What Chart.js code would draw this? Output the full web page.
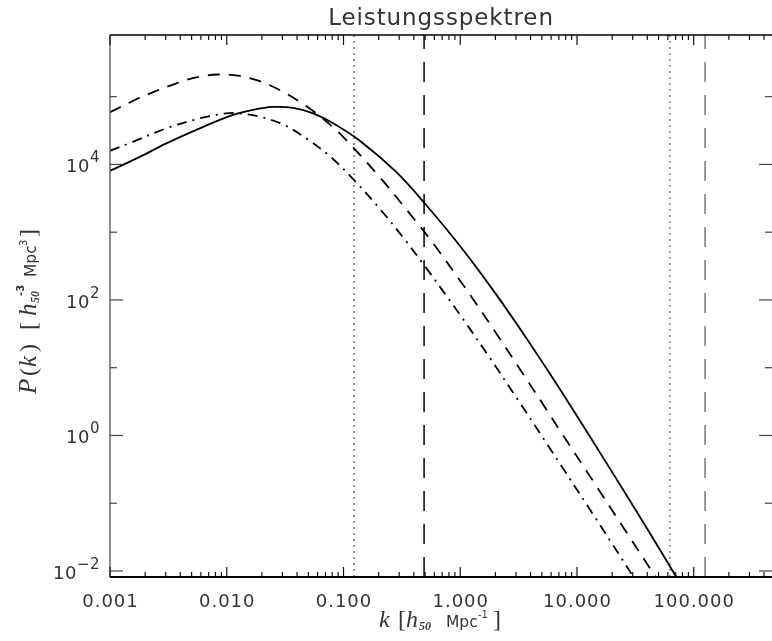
<!DOCTYPE html>
<html lang="de">
<head>
<meta charset="UTF-8">
<title>Leistungsspektren</title>
<script src="https://cdn.jsdelivr.net/npm/chart.js"></script>
<style>
  body { margin: 0; background: #fff; }
  .wrap { width: 772px; height: 641px; position: relative; }
</style>
</head>
<body>
<div class="wrap"><canvas id="spectra"></canvas></div>
<script>
// k in h50/Mpc, P(k) in h50^-3 Mpc^3
const kSolid = [0.001, 0.0018, 0.00304, 0.00587, 0.01132, 0.0168, 0.0249, 0.037, 0.055, 0.0815, 0.138, 0.284, 0.498, 1.059, 2.05, 3.94, 7.62, 19.1, 36.9, 71.3];
const pSolid = [8035, 12940, 20460, 34120, 53700, 64000, 70500, 68500, 56750, 40460, 22390, 7690, 2649, 547, 117.8, 23.0, 4.05, 0.327, 0.0524, 0.00802];

const kDashed = [0.001, 0.00163, 0.00237, 0.00347, 0.00532, 0.00841, 0.0125, 0.0189, 0.0284, 0.0417, 0.0587, 0.0815, 0.1026, 0.2046, 0.37, 0.586, 0.993, 1.25, 2.05, 3.35, 5.31, 7.13, 13.8, 26.6, 48.1];
const pDashed = [58750, 89300, 117500, 151000, 190500, 212300, 203700, 170600, 125600, 84900, 56400, 35240, 24100, 6490, 1871, 686, 194, 110.7, 31.4, 8.75, 2.61, 1.19, 0.210, 0.0370, 0.00776];

const kDashDot = [0.001, 0.00157, 0.00304, 0.00587, 0.00993, 0.0129, 0.0192, 0.0303, 0.0482, 0.0789, 0.125, 0.2046, 0.324, 0.514, 0.787, 1.026, 1.795, 3.13, 5.48, 7.13, 13.8, 30.8];
const pDashDot = [15890, 21580, 34120, 47860, 56750, 56750, 50580, 39080, 24100, 12590, 5740, 2218, 836, 292, 106.4, 56.1, 13.9, 3.33, 0.769, 0.385, 0.0676, 0.00794];

const kDotted = [0.123, 62.5];
const kLongDash = [0.49, 125];

const xTicks = [0.001, 0.01, 0.1, 1, 10, 100];
const xTickLabels = ['0.001', '0.010', '0.100', '1.000', '10.000', '100.000'];
const yTicks = [1e-2, 1, 1e2, 1e4];
const yExponents = ['\u22122', '0', '2', '4'];

const xMin = 0.001, xMax = 468;
const yMin = 0.00815, yMax = 8.13e5;

function pts(ks, ps) { return ks.map((k, i) => ({ x: k, y: ps[i] })); }
function vline(k) { return [{ x: k, y: yMin }, { x: k, y: yMax }]; }

function curve(data, dash) {
  return { data: data, borderColor: '#000', borderWidth: 1.8, borderDash: dash,
           pointRadius: 0, showLine: true, fill: false, tension: 0.35 };
}
function marker(k, color, width, dash) {
  return { data: vline(k), borderColor: color, borderWidth: width, borderDash: dash,
           pointRadius: 0, showLine: true, fill: false };
}

// parts carry their own offset along the text line
function drawPlaced(ctx, parts, x, y) {
  parts.forEach(p => {
    ctx.font = p.f;
    ctx.fillText(p.t, x + p.dx, y + (p.dy || 0));
  });
}
function richWidth(ctx, parts) {
  let w = 0;
  parts.forEach(p => { ctx.font = p.f; w += ctx.measureText(p.t).width; });
  return w;
}
function drawRich(ctx, parts, x, y) {
  parts.forEach(p => {
    ctx.font = p.f;
    ctx.fillText(p.t, x, y + (p.dy || 0));
    x += ctx.measureText(p.t).width;
  });
}

const sans = '"DejaVu Sans"';
const serif = '"Liberation Serif"';

const axesBox = {
  id: 'axesBox',
  afterDraw(chart) {
    const { ctx, chartArea: a, scales: { x, y } } = chart;
    ctx.save();
    function seg(x1, y1, x2, y2) { ctx.beginPath(); ctx.moveTo(x1, y1); ctx.lineTo(x2, y2); ctx.stroke(); }

    // frame
    ctx.strokeStyle = '#000';
    ctx.lineWidth = 1.5;
    seg(a.left, a.top, a.right, a.top);
    ctx.lineWidth = 2;
    seg(a.left, a.bottom, a.right, a.bottom);
    ctx.strokeStyle = '#666';
    ctx.lineWidth = 1.5;
    seg(a.left, a.top, a.left, a.bottom);

    // x ticks, pointing inwards top and bottom
    ctx.strokeStyle = '#111';
    ctx.lineWidth = 1.2;
    for (let e = -3; e <= 2; e++) {
      for (let m = 1; m <= 9; m++) {
        const v = m * Math.pow(10, e);
        if (v > xMax) break;
        const px = x.getPixelForValue(v);
        const len = m === 1 ? 10 : 5;
        seg(px, a.bottom, px, a.bottom - len);
        seg(px, a.top, px, a.top + len);
      }
    }
    // y ticks
    ctx.strokeStyle = '#444';
    for (let e = -2; e <= 5; e++) {
      const py = y.getPixelForValue(Math.pow(10, e));
      const len = e % 2 === 0 ? 13 : 7;
      seg(a.left, py, a.left + len, py);
      seg(a.right, py, a.right - len, py);
    }

    // tick labels
    ctx.fillStyle = '#333';
    ctx.textBaseline = 'alphabetic';
    ctx.font = '18px ' + sans;
    ctx.letterSpacing = '1px';
    ctx.textAlign = 'center';
    xTicks.forEach((v, i) => ctx.fillText(xTickLabels[i], x.getPixelForValue(v) + 0.5, a.bottom + 30));
    ctx.textAlign = 'left';
    ctx.letterSpacing = '0.5px';
    yTicks.forEach((v, i) => {
      const py = y.getPixelForValue(v);
      const parts = [{ t: '10', f: '18px ' + sans }, { t: yExponents[i], f: '15px ' + sans, dy: -10 }];
      drawRich(ctx, parts, a.left - 10 - richWidth(ctx, parts), py + 8);
    });

    // title
    ctx.textAlign = 'center';
    ctx.font = '23px ' + sans;
    ctx.letterSpacing = '0.9px';
    ctx.fillText('Leistungsspektren', (a.left + a.right) / 2, 25);
    ctx.textAlign = 'left';
    ctx.letterSpacing = '0px';

    // x axis title
    const xt = [
      { t: 'k', f: 'italic 24px ' + serif, dx: 0 },
      { t: '[', f: '24px ' + serif, dx: 19 },
      { t: 'h', f: 'italic 24px ' + serif, dx: 27 },
      { t: '50', f: 'bold italic 12px ' + serif, dx: 40, dy: 3 },
      { t: 'Mpc', f: '15.5px ' + sans, dx: 67 },
      { t: '-1', f: '10px ' + sans, dx: 99, dy: -9 },
      { t: ']', f: '24px ' + serif, dx: 114 }
    ];
    drawPlaced(ctx, xt, (a.left + a.right) / 2 - 62, 627);

    // y axis title, rotated
    const yt = [
      { t: 'P', f: 'italic 25px ' + serif, dx: 0 },
      { t: '(', f: '24px ' + serif, dx: 18 },
      { t: 'k', f: 'italic 25px ' + serif, dx: 27 },
      { t: ')', f: '24px ' + serif, dx: 42 },
      { t: '[', f: '24px ' + serif, dx: 64 },
      { t: 'h', f: 'italic 25px ' + serif, dx: 78 },
      { t: '50', f: 'bold italic 12px ' + serif, dx: 91, dy: 3 },
      { t: '-3', f: 'bold 10px ' + sans, dx: 98, dy: -12 },
      { t: 'Mpc', f: '15.5px ' + sans, dx: 117 },
      { t: '3', f: '10px ' + sans, dx: 148, dy: -9 },
      { t: ']', f: '24px ' + serif, dx: 157 }
    ];
    ctx.translate(36, (a.top + a.bottom) / 2);
    ctx.rotate(-Math.PI / 2);
    drawPlaced(ctx, yt, -88, 0);
    ctx.restore();
  }
};

new Chart(document.getElementById('spectra'), {
  type: 'scatter',
  data: {
    datasets: [
      curve(pts(kSolid, pSolid), []),
      curve(pts(kDashed, pDashed), [12, 9]),
      curve(pts(kDashDot, pDashDot), [10, 6, 2, 6]),
      marker(kDotted[0], '#444', 1.2, [2, 4]),
      marker(kLongDash[0], '#000', 1.5, [20, 13]),
      marker(kDotted[1], '#888', 1.5, [2, 4]),
      marker(kLongDash[1], '#777', 1.5, [20, 13])
    ]
  },
  options: {
    responsive: true,
    maintainAspectRatio: false,
    animation: false,
    layout: { padding: { left: 110, top: 35, right: 0, bottom: 64 } },
    plugins: { legend: { display: false }, tooltip: { enabled: false }, title: { display: false } },
    scales: {
      x: { type: 'logarithmic', min: xMin, max: xMax, display: false },
      y: { type: 'logarithmic', min: yMin, max: yMax, display: false }
    }
  },
  plugins: [axesBox]
});
</script>
</body>
</html>
